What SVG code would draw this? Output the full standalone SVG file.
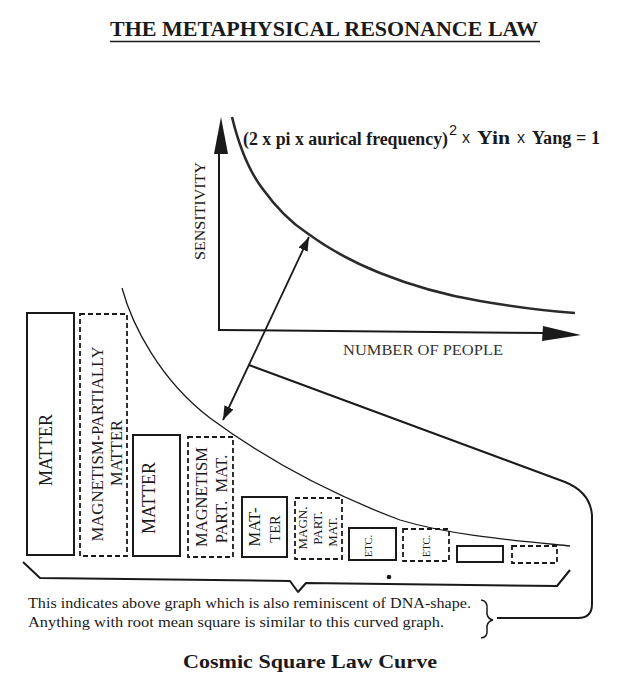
<svg xmlns="http://www.w3.org/2000/svg" width="625" height="680" viewBox="0 0 625 680">
<style>
.bg{fill:#ffffff}
.ser{font-family:"Liberation Serif","Times New Roman",serif;fill:#1a1a1a}
.san{font-family:"Liberation Sans",Arial,sans-serif;fill:#1a1a1a}
.box{fill:none;stroke:#1a1a1a;stroke-width:2}
.dbox{fill:none;stroke:#1a1a1a;stroke-width:1.8;stroke-dasharray:5 3}
.ln{fill:none;stroke:#1a1a1a;stroke-width:2;stroke-linejoin:round}
.thin{fill:none;stroke:#1a1a1a;stroke-width:1.3}
</style>
<defs>
<marker id="ah" viewBox="0 0 14 10" refX="14" refY="5" markerWidth="14" markerHeight="10" markerUnits="userSpaceOnUse" orient="auto-start-reverse">
<path d="M0,0 L14,5 L0,10 Z" fill="#1a1a1a"/>
</marker>
</defs>
<rect class="bg" x="0" y="0" width="625" height="680"/>

<g id="title">
<text class="ser" x="110" y="36" font-size="22" font-weight="bold" textLength="428" lengthAdjust="spacingAndGlyphs">THE  METAPHYSICAL RESONANCE LAW</text>
<line x1="110" y1="41.5" x2="540" y2="41.5" stroke="#1a1a1a" stroke-width="1.6"/>
</g>

<g id="graph">
<line class="ln" x1="219" y1="150" x2="219" y2="330"/>
<path d="M221,117 L228,154 L214,154 Z" fill="#1a1a1a"/>
<line class="ln" x1="218" y1="330" x2="545" y2="333"/>
<path d="M581,335 L543,326 L542,341 Z" fill="#1a1a1a"/>
<path d="M232,117 C240,150 250,172 262,188 C275,206 290,222 307,233 C330,250 355,263 380,273 C415,287 450,296 480,301 C515,307 545,311 575,313" fill="none" stroke="#2a2a2a" stroke-width="2.6"/>
<text class="ser" font-size="15" fill="#333" transform="translate(205,211) rotate(-90)" text-anchor="middle" textLength="98" lengthAdjust="spacingAndGlyphs">SENSITIVITY</text>
<text class="ser" x="343" y="355" font-size="15" textLength="160" lengthAdjust="spacingAndGlyphs" style="fill:#333">NUMBER OF PEOPLE</text>
<text class="ser" y="145" font-size="18" font-weight="bold"><tspan x="243" textLength="205" lengthAdjust="spacingAndGlyphs">(2 x pi x aurical frequency)</tspan><tspan class="san" x="449" y="135" font-size="14.5" font-weight="normal">2</tspan><tspan class="san" x="462" y="143" font-size="16" font-weight="normal">x</tspan><tspan x="477" y="144" textLength="33" lengthAdjust="spacingAndGlyphs">Yin</tspan><tspan class="san" x="517" y="143" font-size="16" font-weight="normal">x</tspan><tspan x="532" y="144" textLength="68" lengthAdjust="spacingAndGlyphs">Yang = 1</tspan></text>
</g>

<g id="cosmic-curve">
<path class="thin" d="M122,288 C132,325 160,380 210,418 C260,455 320,490 400,520 C450,535 510,540 570,546"/>
</g>

<g id="n1">
<rect class="box" x="27" y="313" width="47" height="242"/>
<text class="ser" font-size="18" transform="translate(52,450) rotate(-90)" text-anchor="middle">MATTER</text>
</g>
<g id="n2">
<rect class="dbox" x="80" y="314" width="47" height="242"/>
<text class="ser" font-size="16.5" transform="translate(103,444) rotate(-90)" text-anchor="middle" textLength="195" lengthAdjust="spacingAndGlyphs">MAGNETISM-PARTIALLY</text>
<text class="ser" font-size="16.5" transform="translate(122,453) rotate(-90)" text-anchor="middle">MATTER</text>
</g>
<g id="n3">
<rect class="box" x="133" y="435" width="47" height="121"/>
<text class="ser" font-size="18" transform="translate(155,498) rotate(-90)" text-anchor="middle">MATTER</text>
</g>
<g id="n4">
<rect class="dbox" x="188" y="437" width="45" height="120"/>
<text class="ser" font-size="16.5" transform="translate(207,497) rotate(-90)" text-anchor="middle">MAGNETISM</text>
<text class="ser" font-size="16.5" transform="translate(227,499) rotate(-90)" text-anchor="middle" xml:space="preserve">PART.  MAT.</text>
</g>
<g id="n5">
<rect class="box" x="242" y="497" width="45" height="60"/>
<text class="ser" font-size="16.5" transform="translate(260,527) rotate(-90)" text-anchor="middle">MAT-</text>
<text class="ser" font-size="14.5" transform="translate(280,529) rotate(-90)" text-anchor="middle">TER</text>
</g>
<g id="n6">
<rect class="dbox" x="295" y="498" width="47" height="61"/>
<text class="ser" font-size="13" transform="translate(307,528) rotate(-90)" text-anchor="middle">MAGN.</text>
<text class="ser" font-size="13" transform="translate(322,528) rotate(-90)" text-anchor="middle">PART.</text>
<text class="ser" font-size="13" transform="translate(337,532) rotate(-90)" text-anchor="middle">MAT.</text>
</g>
<g id="n7">
<rect class="box" x="349" y="528" width="47" height="32"/>
<text class="ser" font-size="10.5" transform="translate(372,546) rotate(-90)" text-anchor="middle">ETC.</text>
</g>
<g id="n8">
<rect class="dbox" x="403" y="529" width="46" height="32"/>
<text class="ser" font-size="10.5" transform="translate(430,546) rotate(-90)" text-anchor="middle">ETC.</text>
</g>
<g id="n9">
<rect class="box" x="457" y="546" width="46" height="16"/>
</g>
<g id="n10">
<rect class="dbox" x="512" y="546" width="45" height="17"/>
</g>

<g id="connectors">
<line x1="223" y1="420" x2="309" y2="237" stroke="#1a1a1a" stroke-width="1.8" marker-start="url(#ah)" marker-end="url(#ah)"/>
<path class="ln" d="M249,365 L565,482 Q590,492 592,515 L592,604 Q592,618 578,618 L497,618"/>
<path class="ln" d="M23,562 L40,578 L290,581 L298,592 L306,583 L557,586 L570,570"/>
<circle cx="389" cy="577" r="2.3" fill="#1a1a1a"/>
<path fill="none" stroke="#1a1a1a" stroke-width="1.5" d="M481,600 Q488,601 487,609 L487,614 Q488,619 493,620 Q488,621 487,626 L487,630 Q488,637 481,638"/>
</g>

<g id="notes">
<text class="ser" x="28" y="608" font-size="14.5" textLength="443" lengthAdjust="spacingAndGlyphs">This indicates above graph which is also reminiscent of DNA-shape.</text>
<text class="ser" x="28" y="627" font-size="14.5" textLength="416" lengthAdjust="spacingAndGlyphs">Anything with root mean square is similar to this curved graph.</text>
<text class="ser" x="183" y="668" font-size="19" font-weight="bold" textLength="254" lengthAdjust="spacingAndGlyphs">Cosmic Square Law Curve</text>
</g>
</svg>
